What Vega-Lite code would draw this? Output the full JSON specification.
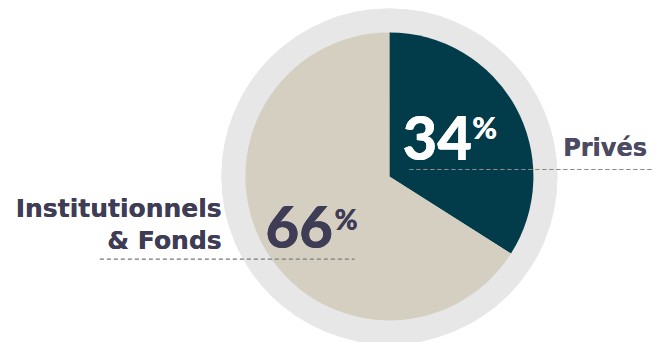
{
  "$schema": "https://vega.github.io/schema/vega-lite/v6.json",
  "width": 655,
  "height": 342,
  "autosize": {"type": "fit", "contains": "padding"},
  "padding": 0,
  "background": "#ffffff",
  "config": {"view": {"stroke": null}},
  "data": {"values": [
    {"categorie": "Privés", "part": 34},
    {"categorie": "Institutionnels & Fonds", "part": 66}
  ]},
  "layer": [
    {
      "mark": {"type": "arc", "outerRadius": 168, "color": "#e7e7e7"},
      "encoding": {
        "x": {"datum": 390, "type": "quantitative", "scale": {"domain": [0, 655], "nice": false, "zero": false}, "axis": null},
        "y": {"datum": 179, "type": "quantitative", "scale": {"domain": [0, 342], "nice": false, "zero": false, "reverse": true}, "axis": null},
        "theta": {"datum": 100, "type": "quantitative"}
      }
    },
    {
      "mark": {"type": "arc", "outerRadius": 144},
      "encoding": {
        "x": {"datum": 390, "type": "quantitative"},
        "y": {"datum": 179, "type": "quantitative"},
        "theta": {"field": "part", "type": "quantitative", "stack": true},
        "order": {"field": "part", "sort": "ascending"},
        "color": {"field": "categorie", "type": "nominal", "legend": null,
          "scale": {"domain": ["Privés", "Institutionnels & Fonds"], "range": ["#023b4a", "#d4cfc0"]}}
      }
    },
    {
      "mark": {"type": "rule", "strokeDash": [4, 3], "color": "#8a8a8a", "strokeWidth": 1},
      "encoding": {
        "x": {"datum": 410, "type": "quantitative"},
        "x2": {"datum": 655},
        "y": {"datum": 172, "type": "quantitative"}
      }
    },
    {
      "mark": {"type": "rule", "strokeDash": [4, 3], "color": "#8a8a8a", "strokeWidth": 1},
      "encoding": {
        "x": {"datum": 100, "type": "quantitative"},
        "x2": {"datum": 355},
        "y": {"datum": 263, "type": "quantitative"}
      }
    },
    {
      "mark": {"type": "text", "font": "Lato", "fontWeight": 900, "fontSize": 60, "color": "#ffffff", "align": "left", "baseline": "alphabetic", "text": "34"},
      "encoding": {
        "x": {"datum": 403, "type": "quantitative"},
        "y": {"datum": 162, "type": "quantitative"}
      }
    },
    {
      "mark": {"type": "text", "font": "Lato", "fontWeight": 900, "fontSize": 30, "color": "#ffffff", "align": "left", "baseline": "alphabetic", "text": "%"},
      "encoding": {
        "x": {"datum": 473, "type": "quantitative"},
        "y": {"datum": 141, "type": "quantitative"}
      }
    },
    {
      "mark": {"type": "text", "font": "Lato", "fontWeight": 900, "fontSize": 58, "color": "#3f3d56", "align": "left", "baseline": "alphabetic", "text": "66"},
      "encoding": {
        "x": {"datum": 266, "type": "quantitative"},
        "y": {"datum": 252, "type": "quantitative"}
      }
    },
    {
      "mark": {"type": "text", "font": "Lato", "fontWeight": 900, "fontSize": 28, "color": "#3f3d56", "align": "left", "baseline": "alphabetic", "text": "%"},
      "encoding": {
        "x": {"datum": 335, "type": "quantitative"},
        "y": {"datum": 233, "type": "quantitative"}
      }
    },
    {
      "mark": {"type": "text", "font": "DejaVu Sans", "fontWeight": "bold", "fontSize": 25, "color": "#3f3d56", "align": "right", "baseline": "alphabetic", "text": "Institutionnels"},
      "encoding": {
        "x": {"datum": 222, "type": "quantitative"},
        "y": {"datum": 220, "type": "quantitative"}
      }
    },
    {
      "mark": {"type": "text", "font": "DejaVu Sans", "fontWeight": "bold", "fontSize": 25, "color": "#3f3d56", "align": "right", "baseline": "alphabetic", "text": "& Fonds"},
      "encoding": {
        "x": {"datum": 222, "type": "quantitative"},
        "y": {"datum": 253, "type": "quantitative"}
      }
    },
    {
      "mark": {"type": "text", "font": "DejaVu Sans", "fontWeight": "bold", "fontSize": 24, "color": "#4d4b63", "align": "left", "baseline": "alphabetic", "text": "Privés"},
      "encoding": {
        "x": {"datum": 564, "type": "quantitative"},
        "y": {"datum": 158, "type": "quantitative"}
      }
    }
  ]
}
